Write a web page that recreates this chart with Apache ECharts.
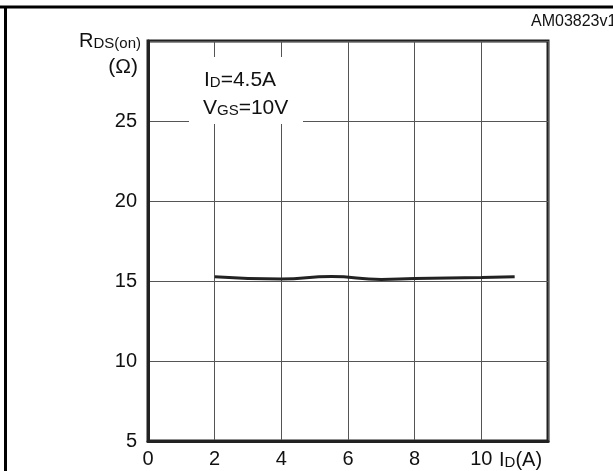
<!DOCTYPE html>
<html><head><meta charset="utf-8">
<script src="https://cdn.jsdelivr.net/npm/echarts@6/dist/echarts.min.js"></script>
<style>html,body{margin:0;padding:0;background:#fff}#c{width:613px;height:471px}</style>
</head><body><div id="c"></div>
<script>
var idValues = [2, 4, 5.5, 7, 8, 10, 11];
var rdsValues = [15.27, 15.13, 15.28, 15.1, 15.16, 15.22, 15.26];
var xTicks = [0, 2, 4, 6, 8, 10];
var yTicks = [5, 10, 15, 20, 25];
var FONT = '"Liberation Sans", Arial, Helvetica, sans-serif';
var chart = echarts.init(document.getElementById('c'), null, {renderer: 'canvas'});
var data = idValues.map(function (v, i) { return [v, rdsValues[i]]; });
function sub(big, small, rest, bs, ss) {
  return {
    text: '{a|' + big + '}{b|' + small + '}' + (rest ? '{a|' + rest + '}' : ''),
    verticalAlign: 'middle', fontFamily: FONT,
    rich: {a: {fontSize: bs, fontFamily: FONT, fill: '#111'},
           b: {fontSize: ss, fontFamily: FONT, fill: '#111', padding: [Math.round(bs * 0.28), 0, 0, 0]}}
  };
}
chart.setOption({
  animation: false,
  backgroundColor: '#fff',
  grid: {left: 148, right: 65, top: 41, bottom: 30, show: true, borderColor: '#222', borderWidth: 3, backgroundColor: 'transparent'},
  xAxis: {
    type: 'value', min: 0, max: 12, interval: 2,
    axisLine: {show: true, lineStyle: {color: '#222', width: 3}},
    axisTick: {show: false},
    splitLine: {show: true, lineStyle: {color: '#555', width: 1}},
    axisLabel: {color: '#111', fontSize: 20, fontFamily: FONT, margin: 8,
      formatter: function (v) { return xTicks.indexOf(v) >= 0 ? String(v) : ''; }}
  },
  yAxis: {
    type: 'value', min: 5, max: 30, interval: 5,
    axisLine: {show: true, lineStyle: {color: '#222', width: 3}},
    axisTick: {show: false},
    splitLine: {show: true, lineStyle: {color: '#555', width: 1}},
    axisLabel: {color: '#111', fontSize: 20, fontFamily: FONT, margin: 11,
      formatter: function (v) { return yTicks.indexOf(v) >= 0 ? String(v) : ''; }}
  },
  series: [{
    type: 'line', data: data, smooth: true, symbol: 'none',
    lineStyle: {color: '#222', width: 3}, z: 5
  }],
  graphic: [
    {type: 'line', shape: {x1: 0, y1: 7, x2: 613, y2: 7}, style: {stroke: '#000', lineWidth: 3}},
    {type: 'line', shape: {x1: 5.5, y1: 7, x2: 5.5, y2: 471}, style: {stroke: '#000', lineWidth: 3}},
    {type: 'text', x: 531, y: 22, style: {text: 'AM03823v1', verticalAlign: 'middle', fontSize: 16, fontFamily: FONT, fill: '#111'}},
    {type: 'rect', shape: {x: 189, y: 57, width: 114, height: 67}, style: {fill: '#fff'}, z: 10},
    {type: 'text', x: 204, y: 80, z: 11, style: sub('I', 'D', '=4.5A', 21, 15)},
    {type: 'text', x: 203, y: 108, z: 11, style: sub('V', 'GS', '=10V', 21, 15)},
    {type: 'text', x: 141, y: 41, z: 11, style: Object.assign(sub('R', 'DS(on)', '', 20, 15), {align: 'right'})},
    {type: 'text', x: 138, y: 67, z: 11, style: {text: '(Ω)', align: 'right', verticalAlign: 'middle', fontSize: 21, fontFamily: FONT, fill: '#111'}},
    {type: 'text', x: 499, y: 460, z: 11, style: sub('I', 'D', '(A)', 20, 15)}
  ]
});
</script></body></html>
